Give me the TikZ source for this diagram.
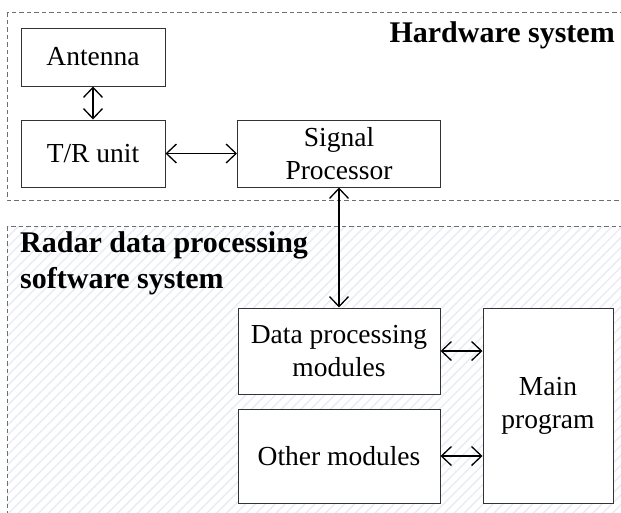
\documentclass[tikz,border=0pt]{standalone}
\usepackage{fontspec}
\setmainfont{Liberation Serif}
\usetikzlibrary{arrows.meta,patterns.meta}

\definecolor{hatch}{HTML}{E8ECF6}
\definecolor{framegray}{HTML}{6E6E6E}
\definecolor{boxline}{HTML}{333333}

\tikzset{
  block/.style={draw=boxline, line width=1pt, fill=white, align=center,
    inner sep=2pt, font=\fontsize{27.5}{33}\selectfont},
  region/.style={draw=framegray, line width=0.9pt, dash pattern=on 4.5pt off 3pt},
  title/.style={inner sep=0pt, font=\fontsize{30}{36.5}\selectfont\bfseries, align=left},
  barb/.tip={Straight Barb[length=10pt,width=19pt,line width=1.3pt]},
  link/.style={line width=1.3pt, barb-barb}
}

\begin{document}
\begin{tikzpicture}[x=1pt, y=-1pt]
  \useasboundingbox (0,0) rectangle (621,512);
  \begin{scope}
    \clip (0,0) rectangle (621,512);
    % hardware region
    \draw[region] (7,12) rectangle (660,200);
    % software region with light hatching
    \fill[pattern={Lines[angle=45,distance=7pt,line width=1.5pt]}, pattern color=hatch]
      (7,226) rectangle (660,560);
    \draw[region] (7,226) rectangle (660,560);
  \end{scope}

  \node[title, anchor=base east] (hw) at (615,42) {Hardware system};
  \node[title, anchor=north west] (sw) at (20,231) {Radar data processing\\software system};

  % hardware blocks
  \node[block, minimum width=144pt, minimum height=58pt] (ant) at (93,57) {Antenna};
  \node[block, minimum width=144pt, minimum height=67pt] (tr) at (93,153.5) {T/R unit};
  \node[block, minimum width=203pt, minimum height=67pt] (sp) at (339,153.5) {Signal\\Processor};

  % software blocks
  \node[block, minimum width=202pt, minimum height=86pt] (dpm) at (339,351) {Data processing\\modules};
  \node[block, minimum width=202pt, minimum height=94pt] (oth) at (339,456) {Other modules};
  \node[block, minimum width=130pt, minimum height=195pt] (main) at (548,405.5) {Main\\program};

  % connections
  \draw[link] (ant.south) -- (tr.north);
  \draw[link] (tr.east) -- (sp.west);
  \draw[link] (sp.south) -- (dpm.north);
  \draw[link] (dpm.east) -- (dpm.east -| main.west);
  \draw[link] (oth.east) -- (oth.east -| main.west);
\end{tikzpicture}
\end{document}
